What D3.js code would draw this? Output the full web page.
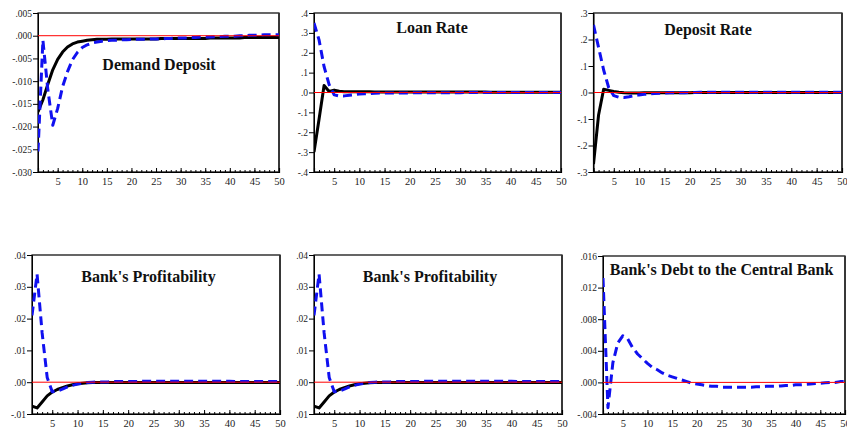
<!DOCTYPE html>
<html>
<head>
<meta charset="utf-8">
<script src="https://cdn.jsdelivr.net/npm/d3@7"></script>
<style>
  html, body { margin: 0; padding: 0; background: #fff; }
  svg { display: block; }
  .title { font-family: "Liberation Serif", "Times New Roman", serif; font-weight: bold; font-size: 16px; fill: #111; }
  .ylab { font-family: "Liberation Serif", "Times New Roman", serif; font-size: 9.5px; fill: #222; }
  .xlab { font-family: "Liberation Serif", "Times New Roman", serif; font-size: 10.5px; fill: #222; }
</style>
</head>
<body>
<svg id="chart" width="847" height="429"></svg>
<script>
// ---------------- DATA ----------------
const periods = d3.range(1, 51);
const xTickValues = [5, 10, 15, 20, 25, 30, 35, 40, 45, 50];

const titles = ["Demand Deposit", "Loan Rate", "Deposit Rate", "Bank's Profitability", "Bank's Profitability", "Bank's Debt to the Central Bank"];

// Demand Deposit
const ddSolid = [-0.0168,-0.0141,-0.0107,-0.0075,-0.0052,-0.0036,-0.0025,-0.0018,-0.0014,-0.0012,
                 -0.0010,-0.0009,-0.0008,-0.0008,-0.0008,-0.0007,-0.0007,-0.0007,-0.0007,-0.0007,
                 -0.0007,-0.0007,-0.0007,-0.0007,-0.0007,-0.0006,-0.0006,-0.0006,-0.0006,-0.0006,
                 -0.0006,-0.0006,-0.0006,-0.0006,-0.0006,-0.0005,-0.0005,-0.0005,-0.0005,-0.0005,
                 -0.0005,-0.0005,-0.0004,-0.0004,-0.0004,-0.0004,-0.0004,-0.0004,-0.0004,-0.0004];
const ddDashed = [-0.0255,-0.0010,-0.0119,-0.0197,-0.0160,-0.0112,-0.0079,-0.0053,-0.0037,-0.0026,
                  -0.0020,-0.0016,-0.0014,-0.0012,-0.0011,-0.0010,-0.0010,-0.0009,-0.0009,-0.0008,
                  -0.0008,-0.0008,-0.0008,-0.0007,-0.0007,-0.0007,-0.0006,-0.0006,-0.0005,-0.0005,
                  -0.0005,-0.0004,-0.0004,-0.0003,-0.0003,-0.0003,-0.0002,-0.0002,-0.0001,-0.0001,
                  -0.0001, 0.0000, 0.0000, 0.0001, 0.0001, 0.0001, 0.0002, 0.0002, 0.0002, 0.0002];
const ddTicks = [0.005, 0, -0.005, -0.010, -0.015, -0.020, -0.025, -0.030];
const ddTickLabels = [".005", ".000", "-.005", "-.010", "-.015", "-.020", "-.025", "-.030"];

// Loan Rate
const lrSolid = [-0.300,-0.135,0.035,0.005,0.012,0.006,0.004,0.004,0.004,0.004,
                 0.004,0.004,0.003,0.003,0.003,0.003,0.003,0.003,0.003,0.003,
                 0.002,0.002,0.002,0.002,0.002,0.002,0.002,0.002,0.002,0.002,
                 0.002,0.002,0.002,0.002,0.002,0.001,0.001,0.001,0.001,0.001,
                 0.001,0.001,0.001,0.001,0.001,0.001,0.001,0.001,0.001,0.001];
const lrDashed = [0.350,0.265,0.130,0.040,-0.012,-0.018,-0.017,-0.014,-0.011,-0.008,
                  -0.006,-0.005,-0.004,-0.003,-0.003,-0.002,-0.002,-0.002,-0.002,-0.002,
                  -0.001,-0.001,-0.001,-0.001,-0.001,-0.001,-0.001,-0.001,-0.001,-0.001,
                  0.000,0.000,0.000,0.000,0.000,0.000,0.000,0.000,0.000,0.000,
                  0.000,0.000,0.000,0.000,0.000,0.000,0.000,0.000,0.000,0.000];
const lrTicks = [0.4, 0.3, 0.2, 0.1, 0, -0.1, -0.2, -0.3, -0.4];
const lrTickLabels = [".4", ".3", ".2", ".1", ".0", "-.1", "-.2", "-.3", "-.4"];

// Deposit Rate
const drSolid = [-0.270,-0.085,0.012,0.008,0.004,0.001,-0.001,-0.002,-0.002,-0.002,
                 -0.001,-0.001,-0.001,-0.001,-0.001,-0.001,-0.001,-0.001,-0.001,-0.001,
                 0.000,0.000,0.000,0.000,0.000,0.000,0.000,0.000,0.000,0.000,
                 0.000,0.000,0.000,0.000,0.000,0.000,0.000,0.000,0.000,0.000,
                 0.000,0.000,0.000,0.000,0.000,0.000,0.000,0.000,0.000,0.000];
const drDashed = [0.255,0.170,0.085,0.018,-0.012,-0.018,-0.019,-0.016,-0.012,-0.009,
                  -0.007,-0.005,-0.004,-0.003,-0.002,-0.001,-0.001,-0.001,-0.001,0.000,
                  0.000,0.001,0.001,0.001,0.001,0.001,0.001,0.001,0.001,0.001,
                  0.001,0.001,0.001,0.001,0.001,0.001,0.001,0.001,0.001,0.001,
                  0.001,0.001,0.001,0.001,0.001,0.001,0.001,0.001,0.001,0.001];
const drTicks = [0.3, 0.2, 0.1, 0, -0.1, -0.2, -0.3];
const drTickLabels = [".3", ".2", ".1", ".0", "-.1", "-.2", "-.3"];

// Bank's Profitability
const bpSolid = [-0.0075,-0.0081,-0.0062,-0.0043,-0.0031,-0.0023,-0.0017,-0.0012,-0.0008,-0.0005,
                 -0.0003,-0.0002,-0.0001,-0.0001,-0.0001,-0.0001,-0.0001,-0.0001,-0.0001,-0.0001,
                 -0.0001,-0.0001,-0.0001,-0.0001,-0.0001,-0.0001,-0.0001,-0.0001,-0.0001,-0.0001,
                 -0.0001,-0.0001,-0.0001,-0.0001,-0.0001,-0.0001,-0.0001,-0.0001,-0.0001,-0.0001,
                 -0.0001,-0.0001,-0.0001,-0.0001,-0.0001,-0.0001,-0.0001,-0.0001,-0.0001,-0.0001];
const bpDashed = [0.0210,0.0340,0.0155,0.0015,-0.0030,-0.0028,-0.0022,-0.0015,-0.0010,-0.0006,
                  -0.0003,-0.0001,0.0000,0.0001,0.0001,0.0001,0.0002,0.0002,0.0002,0.0002,
                  0.0002,0.0002,0.0003,0.0003,0.0003,0.0003,0.0003,0.0003,0.0003,0.0003,
                  0.0003,0.0003,0.0003,0.0003,0.0003,0.0003,0.0003,0.0003,0.0003,0.0003,
                  0.0002,0.0002,0.0002,0.0002,0.0002,0.0002,0.0002,0.0002,0.0002,0.0002];
const bpTicks = [0.04, 0.03, 0.02, 0.01, 0, -0.01];
const bpTickLabels = [".04", ".03", ".02", ".01", ".00", "-.01"];
const bpTickLabels2 = [".04", ".03", ".02", ".01", ".00", ".01"];

// Bank's Debt to the Central Bank
const bdDashed = [0.0132,-0.0032,0.0025,0.0050,0.0059,0.0055,0.0044,0.0036,0.0030,0.0024,
                  0.0019,0.0016,0.0012,0.0009,0.0007,0.0005,0.0003,0.0001,-0.0001,-0.0002,
                  -0.0003,-0.0004,-0.0005,-0.0005,-0.0006,-0.0006,-0.0006,-0.0006,-0.0006,-0.0006,
                  -0.0006,-0.00055,-0.00055,-0.0005,-0.0005,-0.0005,-0.00045,-0.0004,-0.0004,-0.0003,
                  -0.0003,-0.00025,-0.0002,-0.00015,-0.0001,-0.00005,0.0000,0.0000,0.0001,0.0001];
const bdTicks = [0.016, 0.012, 0.008, 0.004, 0, -0.004];
const bdTickLabels = [".016", ".012", ".008", ".004", ".000", "-.004"];

// ---------------- LAYOUT ----------------
const panels = [
  { box: [38, 279, 13, 172],    dom: [-0.030, 0.005], ticks: ddTicks, labels: ddTickLabels, solid: ddSolid, dashed: ddDashed, title: titles[0], tpos: [159, 70] },
  { box: [314, 561, 13, 172],   dom: [-0.4, 0.4],     ticks: lrTicks, labels: lrTickLabels, solid: lrSolid, dashed: lrDashed, title: titles[1], tpos: [432, 33] },
  { box: [593.5, 842, 13, 172], dom: [-0.3, 0.3],     ticks: drTicks, labels: drTickLabels, solid: drSolid, dashed: drDashed, title: titles[2], tpos: [708, 35] },
  { box: [32, 280, 255, 414],   dom: [-0.01, 0.04],   ticks: bpTicks, labels: bpTickLabels, solid: bpSolid, dashed: bpDashed, title: titles[3], tpos: [148.5, 281.5] },
  { box: [314, 562, 255, 414],  dom: [-0.01, 0.04],   ticks: bpTicks, labels: bpTickLabels2, solid: bpSolid, dashed: bpDashed, title: titles[4], tpos: [430, 281.5] },
  { box: [603, 845, 256, 414],  dom: [-0.004, 0.016], ticks: bdTicks, labels: bdTickLabels, solid: null, dashed: bdDashed, title: titles[5], tpos: [721.5, 275] }
];

const svg = d3.select("#chart");

panels.forEach((p, pi) => {
  const [l, r, t, b] = p.box;
  const x = d3.scaleLinear().domain([1, 50]).range([l, r]);
  const y = d3.scaleLinear().domain(p.dom).range([b, t]);
  const g = svg.append("g");
  const clipId = "clip" + pi;
  g.append("clipPath").attr("id", clipId).append("rect")
    .attr("x", l).attr("y", t).attr("width", r - l).attr("height", b - t);

  // frame
  g.append("rect").attr("x", l).attr("y", t).attr("width", r - l).attr("height", b - t)
    .attr("fill", "none").attr("stroke", "#000").attr("stroke-width", 1.2);
  g.append("line").attr("x1", r).attr("x2", r).attr("y1", t).attr("y2", b)
    .attr("stroke", "#333").attr("stroke-width", 1.8);

  // y axis
  const yAxis = d3.axisLeft(y).tickValues(p.ticks).tickSize(5).tickPadding(1)
    .tickFormat((d, i) => p.labels[i]);
  const ya = g.append("g").attr("transform", `translate(${l},0)`).call(yAxis)
    .attr("font-family", null).attr("font-size", null);
  ya.select(".domain").attr("stroke", "#000");
  ya.selectAll(".tick line").attr("stroke", "#000");
  ya.selectAll(".tick text").attr("class", "ylab");

  // x axis: minor ticks inside, labels below
  const xMinor = d3.axisBottom(x).tickValues(periods).tickSize(-2).tickFormat("");
  const xm = g.append("g").attr("transform", `translate(0,${b})`).call(xMinor);
  xm.select(".domain").remove();
  xm.selectAll(".tick line").attr("stroke", "#000");
  const xAxis = d3.axisBottom(x).tickValues(xTickValues).tickSize(-4).tickPadding(5.5);
  const xa = g.append("g").attr("transform", `translate(0,${b})`).call(xAxis)
    .attr("font-family", null).attr("font-size", null);
  xa.select(".domain").attr("stroke", "#000").attr("stroke-width", 1.2);
  xa.selectAll(".tick line").attr("stroke", "#000");
  xa.selectAll(".tick text").attr("class", "xlab");

  const line = d3.line().x((d, i) => x(periods[i])).y(d => y(d));
  const plot = g.append("g").attr("clip-path", `url(#${clipId})`);

  if (p.solid) {
    plot.append("path").datum(p.solid).attr("d", line)
      .attr("fill", "none").attr("stroke", "#000").attr("stroke-width", 3)
      .attr("stroke-linejoin", "round");
  }
  plot.append("path").datum(p.dashed).attr("d", line)
    .attr("fill", "none").attr("stroke", "#1010f0").attr("stroke-width", 3)
    .attr("stroke-dasharray", "9,5").attr("stroke-linejoin", "round");

  // zero line
  plot.append("line").attr("x1", l).attr("x2", r).attr("y1", y(0)).attr("y2", y(0))
    .attr("stroke", "#ff0000").attr("stroke-width", 1);

  g.append("text").attr("class", "title").attr("x", p.tpos[0]).attr("y", p.tpos[1])
    .attr("text-anchor", "middle").text(p.title);
});
</script>
</body>
</html>
